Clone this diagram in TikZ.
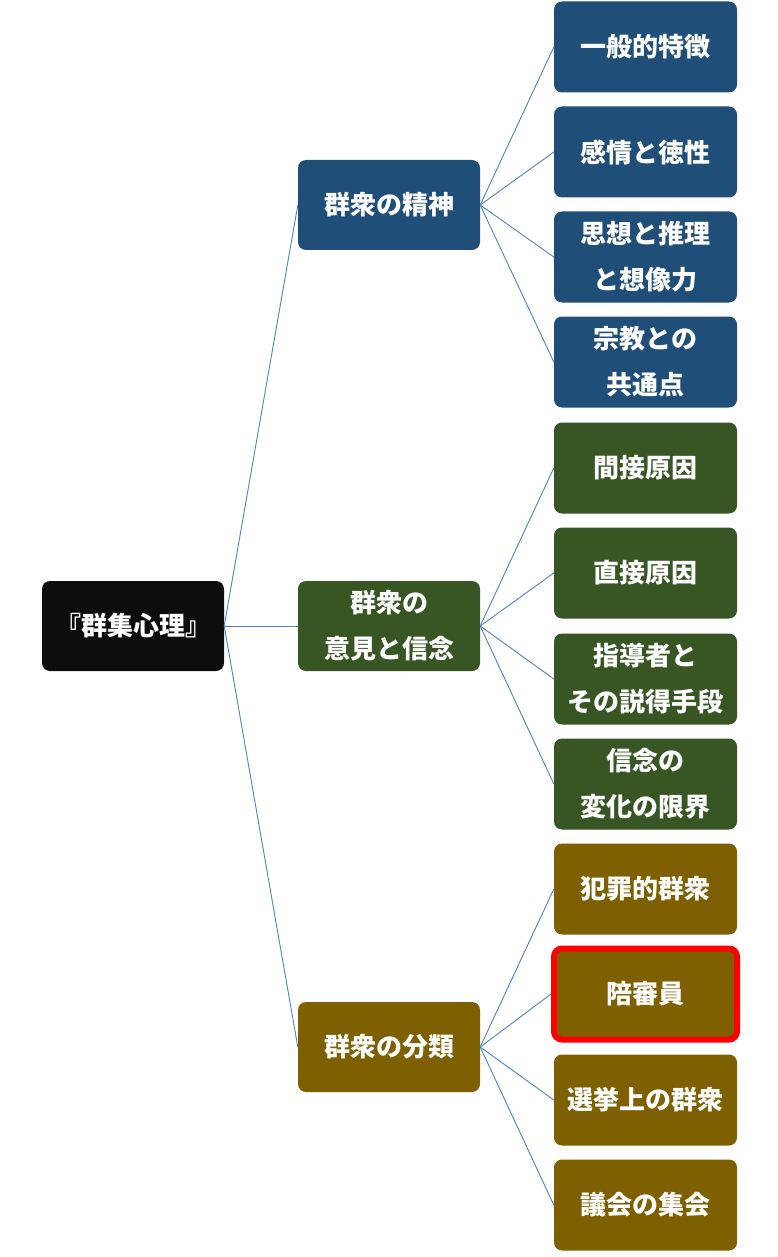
\documentclass[tikz,border=0pt]{standalone}
\usepackage{fontspec}
\setmainfont{Noto Sans CJK JP}
\usepackage{tikz}
\definecolor{rootblk}{HTML}{0D0D0D}
\definecolor{spblue}{HTML}{1F4E79}
\definecolor{opgreen}{HTML}{375623}
\definecolor{clgold}{HTML}{7F6000}
\definecolor{lnblue}{HTML}{4F81BD}

\begin{document}
\begin{tikzpicture}[x=1pt,y=-1pt,
  box/.style={rounded corners=8pt,minimum width=182pt,minimum height=90pt,
              inner sep=0pt,align=center,text=white,
              font=\fontsize{26}{46}\selectfont\bfseries},
  leaf/.style={box,minimum width=183pt,minimum height=91pt},
  hl/.style={draw=red,line width=6pt},
  ln/.style={draw=lnblue,line width=0.9pt}]
\useasboundingbox (0,0) rectangle (777,1257);
% root
\node[box,fill=rootblk] (root) at (133,626) {『群集心理』};
% level 1
\node[box,fill=spblue]  (sp) at (389,205)  {群衆の精神};
\node[box,fill=opgreen] (op) at (389,626)  {群衆の\\意見と信念};
\node[box,fill=clgold]  (cl) at (389,1047) {群衆の分類};
% level 2: spirit
\node[leaf,fill=spblue] (sp1) at (645.5,47)  {一般的特徴};
\node[leaf,fill=spblue] (sp2) at (645.5,152) {感情と徳性};
\node[leaf,fill=spblue] (sp3) at (645.5,257) {思想と推理\\と想像力};
\node[leaf,fill=spblue] (sp4) at (645.5,362) {宗教との\\共通点};
% level 2: opinions
\node[leaf,fill=opgreen] (op1) at (645.5,468) {間接原因};
\node[leaf,fill=opgreen] (op2) at (645.5,573) {直接原因};
\node[leaf,fill=opgreen] (op3) at (645.5,679) {指導者と\\その説得手段};
\node[leaf,fill=opgreen] (op4) at (645.5,784) {信念の\\変化の限界};
% level 2: classes
\node[leaf,fill=clgold]    (cl1) at (645.5,889)  {犯罪的群衆};
\node[leaf,fill=clgold,hl] (cl2) at (645.5,994)  {陪審員};
\node[leaf,fill=clgold]    (cl3) at (645.5,1100) {選挙上の群衆};
\node[leaf,fill=clgold]    (cl4) at (645.5,1205) {議会の集会};
% connectors
\foreach \m in {sp,op,cl}{
  \draw[ln] (root.east) -- (\m.west);
  \foreach \i in {1,...,4}
    \draw[ln] (\m.east) -- (\m\i.west);
}
\end{tikzpicture}
\end{document}
